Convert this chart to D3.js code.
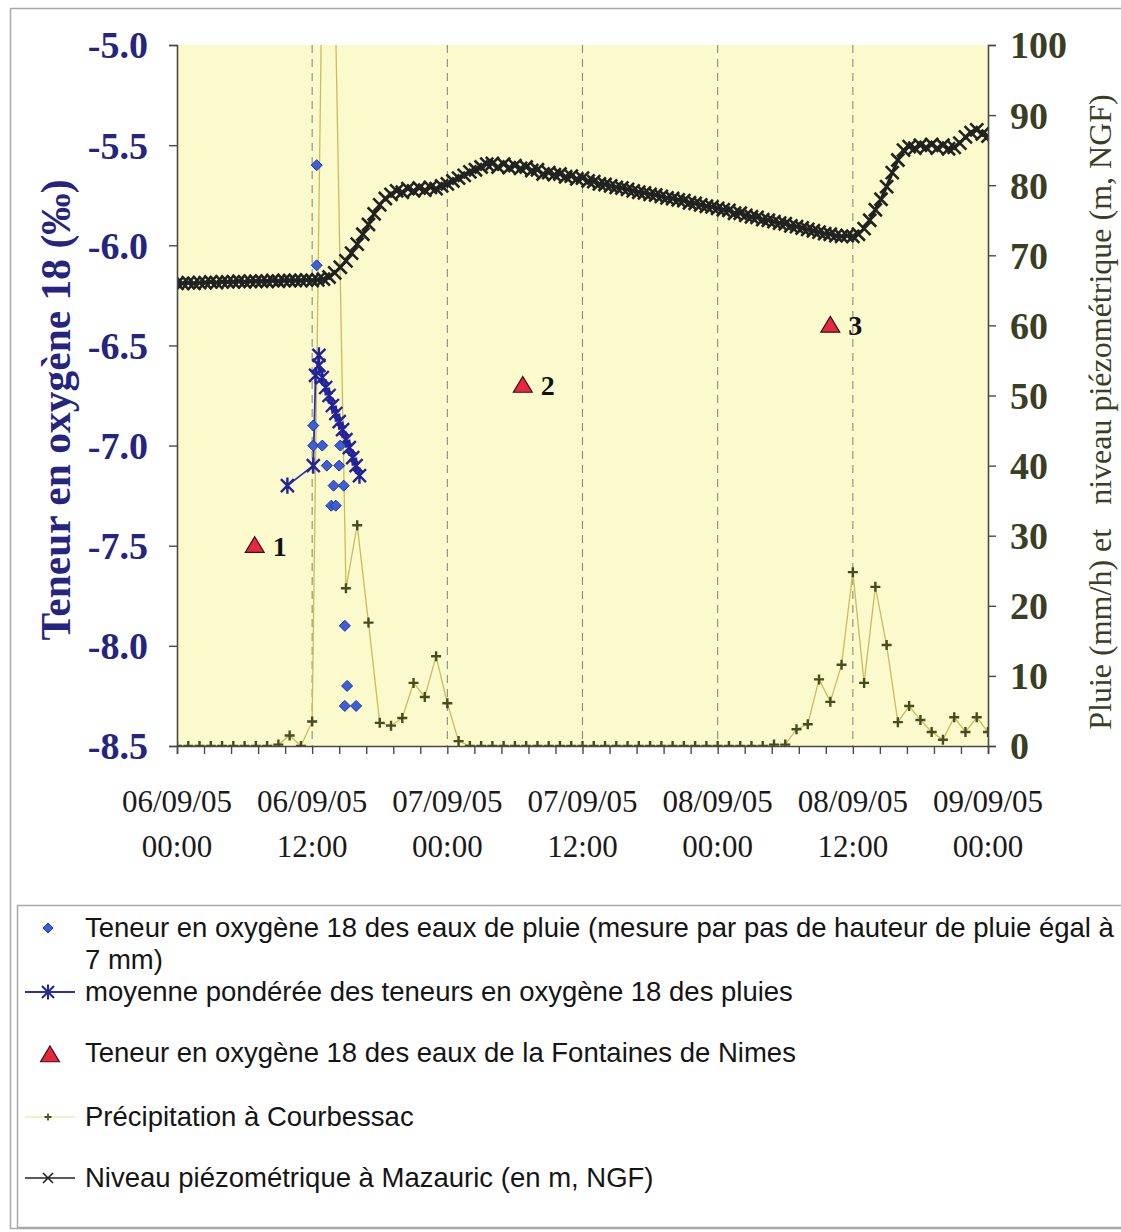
<!DOCTYPE html>
<html>
<head>
<meta charset="utf-8">
<script src="https://cdn.jsdelivr.net/npm/d3@7"></script>
<style>
  body { margin: 0; background: #fff; }
  svg { display: block; }
</style>
</head>
<body>
<svg id="chart" width="1121" height="1232"></svg>
<script>
// ---------------- data ----------------
// Time is counted in hours from 06/09/05 00:00.

// Hourly rainfall at Courbessac (mm/h), 06/09/05 00:00 -> 09/09/05 00:00
const precipValues = [
  0, 0, 0, 0, 0, 0, 0, 0, 0,
  0.2, 1.5, 0, 3.5, 125, 110, 22.5, 31.5, 17.6, 3.3, 2.9, 4.0, 9.0, 7.0, 12.8, 6.1, 0.7,
  0, 0, 0, 0, 0, 0, 0, 0, 0, 0, 0, 0, 0, 0, 0, 0, 0, 0, 0, 0, 0, 0, 0, 0, 0, 0, 0,
  0.2, 0.2, 2.4, 3.1, 9.5, 6.3, 11.6, 24.8, 9.0, 22.7, 14.4, 3.4, 5.7, 3.7, 2.0, 0.9, 4.1, 2.0, 4.1, 2.0
];
const precipHours = precipValues.map((_, i) => i);

// Piezometric level at Mazauric (m NGF), every 30 minutes
const piezoValues = [
  66.0, 66.0, 66.1, 66.0, 66.1, 66.1, 66.2, 66.1, 66.2, 66.2, 66.2, 66.3, 66.2,
  66.3, 66.3, 66.3, 66.3, 66.4, 66.3, 66.4, 66.4, 66.4, 66.4, 66.5, 66.4,
  66.5, 66.6, 66.9, 67.5, 68.3, 69.2, 70.3, 71.6, 73.0, 74.4, 75.9, 77.2,
  78.1, 78.7, 79.2, 79.0, 79.5, 79.2, 79.6, 79.3, 79.7, 79.5, 79.9, 80.2,
  80.6, 81.0, 81.4, 81.9, 82.2, 82.6, 83.0, 83.1, 82.6, 83.0, 82.5, 82.8,
  82.4, 82.6, 82.1, 82.2, 81.6, 81.8, 81.5, 81.6, 81.2, 81.3, 80.9, 81.0,
  80.6, 80.5, 80.2, 80.1, 79.9, 79.7, 79.6, 79.4, 79.2, 79.0, 78.9, 78.7,
  78.6, 78.4, 78.2, 78.1, 77.9, 77.8, 77.5, 77.4, 77.2, 77.0, 76.9, 76.7,
  76.5, 76.4, 76.0, 76.0, 75.7, 75.5, 75.4, 75.1, 75.0, 74.8, 74.6, 74.5,
  74.2, 74.1, 73.9, 73.7, 73.5, 73.3, 73.1, 73.0, 72.8, 72.7, 72.8, 72.7,
  73.0, 73.8, 75.0, 76.5, 78.0, 79.8, 81.8, 83.6, 85.0, 85.5, 85.3, 85.7,
  85.4, 85.8, 85.3, 85.7, 85.2, 85.4, 86.0, 86.9, 87.5, 87.9, 87.3, 87.0
];
const piezoHours = piezoValues.map((_, i) => i * 0.5);

// Oxygen-18 of rain samples (one sample per 7 mm of rain)
const rainO18Hours  = [12.4, 12.4, 12.1, 12.1, 12.9, 14.5, 13.3, 14.4, 13.9, 14.8, 13.7, 14.1, 14.9, 15.1, 14.9, 15.9];
const rainO18Values = [-5.6, -6.1, -6.9, -7.0, -7.0, -7.0, -7.1, -7.1, -7.2, -7.2, -7.3, -7.3, -7.9, -8.2, -8.3, -8.3];

// Weighted mean oxygen-18 of the rain
const meanO18Hours  = [9.8, 12.1, 12.3, 12.6, 12.6, 12.9, 13.2, 13.5, 13.8, 14.1, 14.4, 14.7, 15.0, 15.3, 15.6, 15.9, 16.2];
const meanO18Values = [-7.2, -7.1, -6.65, -6.55, -6.6, -6.66, -6.71, -6.75, -6.8, -6.84, -6.88, -6.92, -6.97, -7.01, -7.06, -7.1, -7.15];

// Oxygen-18 of the Fontaine de Nîmes spring samples
const springHours  = [6.9, 30.7, 58.0];
const springValues = [-7.5, -6.7, -6.4];
const springLabels = ["1", "2", "3"];

// Axis ticks and labels
const leftTicks  = [-8.5, -8.0, -7.5, -7.0, -6.5, -6.0, -5.5, -5.0];
const rightTicks = [0, 10, 20, 30, 40, 50, 60, 70, 80, 90, 100];
const xLabelHours = [0, 12, 24, 36, 48, 60, 72];
const xLabelDates = ["06/09/05", "06/09/05", "07/09/05", "07/09/05", "08/09/05", "08/09/05", "09/09/05"];
const xLabelTimes = ["00:00", "12:00", "00:00", "12:00", "00:00", "12:00", "00:00"];
const gridHours = [12, 24, 36, 48, 60];

const legendItems = [
  { key: "rain",   lines: ["Teneur en oxygène 18 des eaux de pluie (mesure par pas de hauteur de pluie égal à", "7 mm)"] },
  { key: "mean",   lines: ["moyenne pondérée des teneurs en oxygène 18 des pluies"] },
  { key: "spring", lines: ["Teneur en oxygène 18 des eaux de la Fontaines de Nimes"] },
  { key: "precip", lines: ["Précipitation à Courbessac"] },
  { key: "piezo",  lines: ["Niveau piézométrique à Mazauric (en m, NGF)"] }
];

// ---------------- layout ----------------
const plot = { left: 177, right: 988, top: 45, bottom: 746 };
const serif = "'Liberation Serif', 'Times New Roman', serif";
const sans = "'Liberation Sans', Arial, sans-serif";
const navy = "#25257f";
const olive = "#3a3f24";

const svg = d3.select("#chart");

const x  = d3.scaleLinear().domain([0, 72]).range([plot.left, plot.right]);
const yL = d3.scaleLinear().domain([-8.5, -5.0]).range([plot.bottom, plot.top]);
const yR = d3.scaleLinear().domain([0, 100]).range([plot.bottom, plot.top]);

// marker shapes
const crossPath = s => `M${-s},${-s}L${s},${s}M${-s},${s}L${s},${-s}`;
const plusPath  = s => `M${-s},0H${s}M0,${-s}V${s}`;
const starPath  = s => `M${-s},${-s}L${s},${s}M${-s},${s}L${s},${-s}M0,${-s * 1.25}V${s * 1.25}`;
const diamondPath = s => `M0,${-s}L${s},0L0,${s}L${-s},0Z`;
const trianglePath = s => `M0,${-s}L${s * 1.05},${s * 0.75}L${-s * 1.05},${s * 0.75}Z`;

// frame around the figure
svg.append("rect").attr("x", 10.5).attr("y", 8.5).attr("width", 1120).attr("height", 1220)
  .attr("fill", "#fff").attr("stroke", "#a8a8a8").attr("stroke-width", 1.5);

// plot area
svg.append("rect")
  .attr("x", plot.left).attr("y", plot.top)
  .attr("width", plot.right - plot.left).attr("height", plot.bottom - plot.top)
  .attr("fill", "#fafacd");

svg.append("defs").append("clipPath").attr("id", "plotClip")
  .append("rect")
  .attr("x", plot.left).attr("y", plot.top)
  .attr("width", plot.right - plot.left).attr("height", plot.bottom - plot.top);

// dashed vertical gridlines every 12 h
svg.append("g").selectAll("line").data(gridHours).join("line")
  .attr("x1", d => x(d)).attr("x2", d => x(d))
  .attr("y1", plot.top).attr("y2", plot.bottom)
  .attr("stroke", "#8a8a80").attr("stroke-width", 1.1)
  .attr("stroke-dasharray", "8,6");

const marks = svg.append("g").attr("clip-path", "url(#plotClip)");

// rainfall
const precipData = precipHours.map((h, i) => [h, precipValues[i]]);
marks.append("path").datum(precipData)
  .attr("fill", "none").attr("stroke", "#cbbd5c").attr("stroke-width", 1.3)
  .attr("d", d3.line().x(d => x(d[0])).y(d => yR(d[1])));
marks.append("g").selectAll("path").data(precipData).join("path")
  .attr("transform", d => `translate(${x(d[0])},${yR(d[1])})`)
  .attr("d", plusPath(5))
  .attr("stroke", "#454d1e").attr("stroke-width", 2.4);

// piezometric level
const piezoData = piezoHours.map((h, i) => [h, piezoValues[i]]);
marks.append("path").datum(piezoData)
  .attr("fill", "none").attr("stroke", "#1e1e1e").attr("stroke-width", 3)
  .attr("d", d3.line().x(d => x(d[0])).y(d => yR(d[1])));
marks.append("g").selectAll("path").data(piezoData).join("path")
  .attr("transform", d => `translate(${x(d[0])},${yR(d[1])})`)
  .attr("d", crossPath(6.5))
  .attr("stroke", "#222").attr("stroke-width", 2.6);

// weighted mean of rain oxygen-18
const meanData = meanO18Hours.map((h, i) => [h, meanO18Values[i]]);
marks.append("path").datum(meanData)
  .attr("fill", "none").attr("stroke", "#2e2eb0").attr("stroke-width", 1.8)
  .attr("d", d3.line().x(d => x(d[0])).y(d => yL(d[1])));
marks.append("g").selectAll("path").data(meanData).join("path")
  .attr("transform", d => `translate(${x(d[0])},${yL(d[1])})`)
  .attr("d", starPath(6.5))
  .attr("stroke", "#22229a").attr("stroke-width", 2.4);

// rain samples oxygen-18
marks.append("g").selectAll("path")
  .data(rainO18Hours.map((h, i) => [h, rainO18Values[i]]))
  .join("path")
  .attr("transform", d => `translate(${x(d[0])},${yL(d[1])})`)
  .attr("d", diamondPath(5.5))
  .attr("fill", "#3b5fd6").attr("stroke", "#23309a").attr("stroke-width", 1);

// spring samples
const springG = svg.append("g");
springG.selectAll("path").data(springHours).join("path")
  .attr("transform", (d, i) => `translate(${x(d)},${yL(springValues[i])})`)
  .attr("d", trianglePath(9))
  .attr("fill", "#e5283f").attr("stroke", "#3a1010").attr("stroke-width", 1.2);
springG.selectAll("text").data(springHours).join("text")
  .attr("x", d => x(d) + 18)
  .attr("y", (d, i) => yL(springValues[i]) + 10)
  .attr("font-family", serif).attr("font-weight", "bold").attr("font-size", 28)
  .attr("fill", "#111")
  .text((d, i) => springLabels[i]);

// ---------------- axes ----------------
const axisColor = "#4a4a44";

const leftAxis = svg.append("g").attr("transform", `translate(${plot.left},0)`)
  .call(d3.axisLeft(yL).tickValues(leftTicks).tickSize(8).tickPadding(21)
    .tickFormat(d => d.toFixed(1)));
leftAxis.selectAll("text")
  .attr("font-family", serif).attr("font-weight", "bold").attr("font-size", 38)
  .attr("fill", navy).attr("dy", "0.34em");

const rightAxis = svg.append("g").attr("transform", `translate(${plot.right},0)`)
  .call(d3.axisRight(yR).tickValues(rightTicks).tickSize(8).tickPadding(14));
rightAxis.selectAll("text")
  .attr("font-family", serif).attr("font-weight", "bold").attr("font-size", 38)
  .attr("fill", olive).attr("dy", "0.34em");

const bottomAxis = svg.append("g").attr("transform", `translate(0,${plot.bottom})`)
  .call(d3.axisBottom(x).tickValues(d3.range(0, 72.001, 2.4)).tickSize(8).tickFormat(""));

[leftAxis, rightAxis, bottomAxis].forEach(g => {
  g.select(".domain").attr("stroke", axisColor).attr("stroke-width", 1.6);
  g.selectAll(".tick line").attr("stroke", axisColor).attr("stroke-width", 1.4);
});

// two-line date labels
const xLabels = svg.append("g").selectAll("text").data(xLabelHours).join("text")
  .attr("x", d => x(d))
  .attr("text-anchor", "middle")
  .attr("font-family", serif).attr("font-size", 31).attr("fill", "#1a1a1a");
xLabels.append("tspan").attr("x", d => x(d)).attr("y", 812).text((d, i) => xLabelDates[i]);
xLabels.append("tspan").attr("x", d => x(d)).attr("y", 857).text((d, i) => xLabelTimes[i]);

// axis titles
svg.append("text")
  .attr("transform", "translate(70,410) rotate(-90)")
  .attr("text-anchor", "middle")
  .attr("font-family", serif).attr("font-weight", "bold").attr("font-size", 41.5)
  .attr("fill", navy)
  .text("Teneur en oxygène 18 (‰)");

svg.append("text")
  .attr("transform", "translate(1111,412) rotate(-90)")
  .attr("text-anchor", "middle")
  .attr("font-family", serif).attr("font-size", 32)
  .attr("fill", olive)
  .style("white-space", "pre")
  .text("Pluie (mm/h) et   niveau piézométrique (m, NGF)");

// ---------------- legend ----------------
svg.append("rect").attr("x", 17.5).attr("y", 905.5).attr("width", 1115).attr("height", 322)
  .attr("fill", "#fff").attr("stroke", "#a8a8a8").attr("stroke-width", 1.5);

const legendRowY = { rain: 928, mean: 992, spring: 1053, precip: 1117, piezo: 1178 };
const legend = svg.append("g");

legendItems.forEach(item => {
  const cy = legendRowY[item.key];
  const mx = 48;
  if (item.key === "rain") {
    legend.append("path").attr("transform", `translate(${mx},${cy})`).attr("d", diamondPath(5))
      .attr("fill", "#3b5fd6").attr("stroke", "#23309a");
  } else if (item.key === "mean") {
    legend.append("line").attr("x1", 25).attr("x2", 75).attr("y1", cy).attr("y2", cy)
      .attr("stroke", "#2e2eb0").attr("stroke-width", 1.8);
    legend.append("path").attr("transform", `translate(${mx},${cy})`).attr("d", starPath(6))
      .attr("stroke", "#22229a").attr("stroke-width", 2);
  } else if (item.key === "spring") {
    legend.append("path").attr("transform", `translate(${mx + 2},${cy + 2})`).attr("d", trianglePath(9))
      .attr("fill", "#e5283f").attr("stroke", "#3a1010").attr("stroke-width", 1.2);
  } else if (item.key === "precip") {
    legend.append("line").attr("x1", 25).attr("x2", 75).attr("y1", cy).attr("y2", cy)
      .attr("stroke", "#e6df9c").attr("stroke-width", 1);
    legend.append("path").attr("transform", `translate(${mx},${cy})`).attr("d", plusPath(3.5))
      .attr("stroke", "#4a5220").attr("stroke-width", 1.8);
  } else if (item.key === "piezo") {
    legend.append("line").attr("x1", 25).attr("x2", 75).attr("y1", cy).attr("y2", cy)
      .attr("stroke", "#222").attr("stroke-width", 1.6);
    legend.append("path").attr("transform", `translate(${mx},${cy})`).attr("d", crossPath(5))
      .attr("stroke", "#222").attr("stroke-width", 1.6);
  }
  const t = legend.append("text")
    .attr("font-family", sans).attr("font-size", 27.5).attr("fill", "#151515");
  item.lines.forEach((line, k) => {
    t.append("tspan").attr("x", 85).attr("y", cy + 9 + k * 32).text(line);
  });
});
</script>
</body>
</html>
